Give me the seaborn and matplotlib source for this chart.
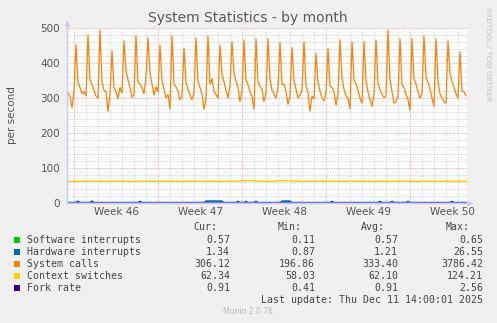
import numpy as np
import pandas as pd
import matplotlib
matplotlib.use("Agg")
import matplotlib.pyplot as plt
import seaborn as sns
from matplotlib.patches import Rectangle

# ---------------- data ----------------
# System calls, one value every 4 hours (6 per day), 200 points
syscalls_w46 = [315, 305, 272, 318, 452, 345,  330, 312, 318, 306, 480, 352,
                338, 322, 305, 300, 494, 348,  322, 318, 262, 310, 435, 330,
                318, 298, 330, 315, 463, 378,  352, 330, 302, 310, 478, 345,
                340, 328, 312, 360, 472, 372]
syscalls_w47 = [340, 308, 332, 318, 451, 348,  325, 300, 310, 268, 478, 340,
                332, 320, 295, 305, 442, 345,  325, 308, 295, 315, 472, 348,
                330, 312, 268, 300, 477, 340,  355, 318, 310, 300, 451, 368,
                345, 322, 300, 335, 461, 372]
syscalls_w48 = [348, 330, 290, 320, 466, 352,  338, 318, 305, 268, 469, 348,
                332, 325, 290, 315, 470, 355,  322, 312, 300, 328, 459, 338,
                340, 318, 282, 305, 444, 350,  325, 300, 310, 322, 461, 335,
                315, 262, 305, 298, 428, 345]
syscalls_w49 = [320, 300, 292, 315, 442, 335,  330, 318, 280, 310, 466, 358,
                325, 306, 298, 270, 461, 352,  340, 322, 300, 285, 461, 350,
                318, 295, 276, 312, 466, 342,  325, 310, 302, 305, 494, 352,
                318, 285, 290, 305, 469, 338]
syscalls_w50 = [330, 310, 296, 265, 469, 355,  340, 318, 300, 312, 477, 360,
                345, 325, 300, 276, 469, 348,  312, 300, 290, 285, 463, 370,
                348, 330, 312, 300, 432, 320,  318, 306]

hardware_irq = [1.2, 1.2, 1.2, 1.2, 1.2, 5.0, 1.2, 1.2, 1.2, 1.2,
                1.2, 1.2, 5.5, 1.2, 1.2, 1.2, 1.2, 1.2, 1.2, 1.2,
                1.2, 1.2, 1.2, 1.2, 1.2, 1.2, 1.2, 1.2, 1.2, 1.2,
                1.2, 1.2, 1.2, 1.2, 1.2, 1.2, 4.5, 1.2, 1.2, 1.2,
                1.2, 1.2, 1.2, 1.2, 1.2, 1.2, 1.2, 1.2, 1.2, 1.2,
                1.2, 1.2, 1.2, 1.2, 1.2, 1.2, 1.2, 1.2, 1.2, 1.2,
                1.2, 1.2, 1.2, 1.2, 1.2, 1.2, 1.2, 1.2, 1.2, 5.0,
                5.5, 5.5, 5.5, 5.5, 5.5, 5.5, 5.5, 5.0, 1.2, 1.2,
                1.2, 1.2, 1.2, 1.2, 1.2, 4.5, 1.2, 1.2, 1.2, 4.5,
                1.2, 1.2, 1.2, 1.2, 4.5, 1.2, 1.2, 1.2, 1.2, 1.2,
                1.2, 1.2, 1.2, 1.2, 1.2, 1.2, 1.2, 5.0, 5.5, 5.5,
                5.5, 5.0, 1.2, 1.2, 1.2, 1.2, 1.2, 1.2, 1.2, 1.2,
                1.2, 1.2, 1.2, 1.2, 1.2, 1.2, 1.2, 1.2, 1.2, 1.2,
                1.2, 1.2, 4.5, 1.2, 1.2, 1.2, 1.2, 1.2, 1.2, 1.2,
                1.2, 1.2, 1.2, 1.2, 1.2, 1.2, 1.2, 1.2, 1.2, 1.2,
                1.2, 1.2, 1.2, 1.2, 1.2, 1.2, 4.5, 1.2, 1.2, 1.2,
                1.2, 1.2, 4.5, 1.2, 1.2, 1.2, 1.2, 1.2, 1.2, 1.2,
                4.5, 1.2, 1.2, 1.2, 1.2, 1.2, 1.2, 1.2, 1.2, 1.2,
                1.2, 1.2, 1.2, 1.2, 1.2, 1.2, 1.2, 1.2, 1.2, 1.2,
                1.2, 1.2, 4.5, 1.2, 1.2, 1.2, 1.2, 1.2, 1.34, 1.34]

# Daily values (34 points)
context_switches = [62.1, 62.0, 62.2, 62.1, 62.0, 62.1, 62.3, 62.0, 62.1, 62.2,
                    62.0, 62.1, 62.0, 62.2, 62.1, 64.5, 62.0, 62.1, 64.0, 62.1,
                    62.0, 62.2, 62.1, 62.0, 62.1, 62.2, 62.0, 62.1, 62.2, 62.1,
                    62.0, 62.1, 62.2, 62.34]
fork_rate = [0.91, 0.90, 0.92, 0.91, 0.90, 0.91, 0.92, 0.91, 0.90, 0.91,
             0.92, 0.91, 0.90, 0.91, 0.92, 0.91, 0.90, 0.91, 0.92, 0.91,
             0.90, 0.91, 0.92, 0.91, 0.90, 0.91, 0.92, 0.91, 0.90, 0.91,
             0.92, 0.91, 0.90, 0.91]
software_irq = [0.57, 0.56, 0.58, 0.57, 0.57, 0.56, 0.58, 0.57, 0.57, 0.56,
                0.58, 0.57, 0.57, 0.56, 0.58, 0.57, 0.57, 0.56, 0.58, 0.57,
                0.57, 0.56, 0.58, 0.57, 0.57, 0.56, 0.58, 0.57, 0.57, 0.56,
                0.58, 0.57, 0.57, 0.57]

week_labels = ["Week 46", "Week 47", "Week 48", "Week 49", "Week 50"]
y_ticks = [0, 100, 200, 300, 400, 500]

legend_names = ["Software interrupts", "Hardware interrupts", "System calls",
                "Context switches", "Fork rate"]
legend_colors = ["#00CC00", "#0066B3", "#FF8000", "#FFCC00", "#330099"]
cur_vals = ["0.57", "1.34", "306.12", "62.34", "0.91"]
min_vals = ["0.11", "0.87", "196.86", "58.03", "0.41"]
avg_vals = ["0.57", "1.21", "333.40", "62.10", "0.91"]
max_vals = ["0.65", "26.55", "3786.42", "124.21", "2.56"]

# ---------------- figure ----------------
sns.set_style("white")
plt.rcParams['font.family'] = ['DejaVu Sans']

W, H = 497, 323
fig = plt.figure(figsize=(W / 100, H / 100), dpi=100, facecolor="#F0F0F0")
ax = fig.add_axes([67 / W, 1 - 203 / H, 400 / W, 175 / H])
ax.set_facecolor("white")

syscalls = syscalls_w46 + syscalls_w47 + syscalls_w48 + syscalls_w49 + syscalls_w50
t4h = -0.5 + np.arange(len(syscalls)) / 6.0
tday = np.append(np.arange(33) - 0.5, 32 + 5 / 6)

df4 = pd.DataFrame({"t": t4h, "sys": syscalls, "hw": hardware_irq})
dfd = pd.DataFrame({"t": tday, "ctx": context_switches, "fork": fork_rate,
                    "soft": software_irq})

xmin, xmax = -7 / 12, 400 / 12 - 7 / 12
ax.set_xlim(xmin, xmax)
ax.set_ylim(0, 500)

# grid
minor_c = "#CFCFCF"
major_c = "#E8A0A0"
for d in range(0, 33):
    if d % 7 != 0:
        ax.axvline(d, color=minor_c, lw=0.72, ls=(0, (1, 1.4)), zorder=0)
for d in range(0, 33, 7):
    ax.axvline(d, color=major_c, lw=0.72, ls=(0, (1, 1.4)), zorder=0.5)
for v in range(20, 500, 20):
    if v % 100 != 0:
        ax.axhline(v, color=minor_c, lw=0.72, ls=(0, (1, 1.4)), zorder=0)
for v in range(100, 501, 100):
    ax.axhline(v, color=major_c, lw=0.72, ls=(0, (1, 1.4)), zorder=0.5)

# series (munin drawing order)
sns.lineplot(data=dfd, x="t", y="soft", ax=ax, color=legend_colors[0], lw=1, legend=False)
sns.lineplot(data=df4, x="t", y="hw", ax=ax, color=legend_colors[1], lw=1.2, legend=False)
sns.lineplot(data=df4, x="t", y="sys", ax=ax, color=legend_colors[2], lw=0.9, legend=False)
sns.lineplot(data=dfd, x="t", y="ctx", ax=ax, color=legend_colors[3], lw=1, legend=False)
sns.lineplot(data=dfd, x="t", y="fork", ax=ax, color="#7060C0", lw=1, legend=False)

# axes styling
for s in ["top", "right"]:
    ax.spines[s].set_visible(False)
for s in ["left", "bottom"]:
    ax.spines[s].set_color("#C8C8F0")
    ax.spines[s].set_linewidth(1)
    ax.spines[s].set_zorder(5)

ax.set_yticks(y_ticks)
ax.set_yticklabels([str(v) for v in y_ticks])
ax.set_xticks([3.5, 10.5, 17.5, 24.5, 31.5])
ax.set_xticklabels(week_labels)
ax.set_xticks([0, 7, 14, 21, 28], minor=True)
ax.tick_params(axis="both", which="major", length=0, labelsize=7.5,
               labelcolor="#555555")
ax.tick_params(axis="y", pad=5)
ax.tick_params(axis="x", pad=3)
ax.tick_params(axis="x", which="minor", length=2, color=major_c, width=0.8,
               direction="out")
ax.set_xlabel("")
ax.set_ylabel("per second", fontsize=7.5, color="#555555", labelpad=17)

# axis extensions with arrows
ax.plot([0, 0], [1, 1.03], transform=ax.transAxes, color="#C8C8F0", lw=1, clip_on=False)
ax.plot([0], [1.03], transform=ax.transAxes, marker="^", ms=4, color="#C8C8F0",
        clip_on=False, mec="none")
ax.plot([1, 1.0075], [0, 0], transform=ax.transAxes, color="#C8C8F0", lw=1, clip_on=False)
ax.plot([1.0075], [0], transform=ax.transAxes, marker=">", ms=4, color="#C8C8F0",
        clip_on=False, mec="none")

# title & side text
def fx(x):
    return x / W

def fy(y):
    return 1 - y / H

fig.text(fx(248), fy(18), "System Statistics - by month", ha="center", va="center",
         fontsize=10, color="#5A5A5A")
fig.text(fx(488), fy(54), "RRDTOOL / TOBI OETIKER", rotation=270, ha="center",
         va="center", fontsize=5.3, color="#C4C4C4")

# legend
mono = "DejaVu Sans Mono"
lc = "#444444"
fs = 7.1
hy = 227
fig.text(fx(217), fy(hy), "Cur:", ha="right", va="center", family=mono, fontsize=fs, color=lc)
fig.text(fx(302), fy(hy), "Min:", ha="right", va="center", family=mono, fontsize=fs, color=lc)
fig.text(fx(385), fy(hy), "Avg:", ha="right", va="center", family=mono, fontsize=fs, color=lc)
fig.text(fx(470), fy(hy), "Max:", ha="right", va="center", family=mono, fontsize=fs, color=lc)
for i, name in enumerate(legend_names):
    y = 240 + 12 * i
    fig.patches.append(Rectangle((fx(14), fy(y + 3)), 6 / W, 6 / H,
                                 transform=fig.transFigure, facecolor=legend_colors[i],
                                 edgecolor="none"))
    fig.text(fx(27), fy(y), name, ha="left", va="center", family=mono, fontsize=fs, color=lc)
    fig.text(fx(230), fy(y), cur_vals[i], ha="right", va="center", family=mono, fontsize=fs, color=lc)
    fig.text(fx(315), fy(y), min_vals[i], ha="right", va="center", family=mono, fontsize=fs, color=lc)
    fig.text(fx(398), fy(y), avg_vals[i], ha="right", va="center", family=mono, fontsize=fs, color=lc)
    fig.text(fx(483), fy(y), max_vals[i], ha="right", va="center", family=mono, fontsize=fs, color=lc)
fig.text(fx(483), fy(300), "Last update: Thu Dec 11 14:00:01 2025", ha="right",
         va="center", family=mono, fontsize=fs, color=lc)
fig.text(fx(248), fy(312), "Munin 2.0.76", ha="center", va="center", fontsize=5.5,
         color="#BBBBBB")

fig.savefig("out.png", dpi=100, facecolor=fig.get_facecolor())
